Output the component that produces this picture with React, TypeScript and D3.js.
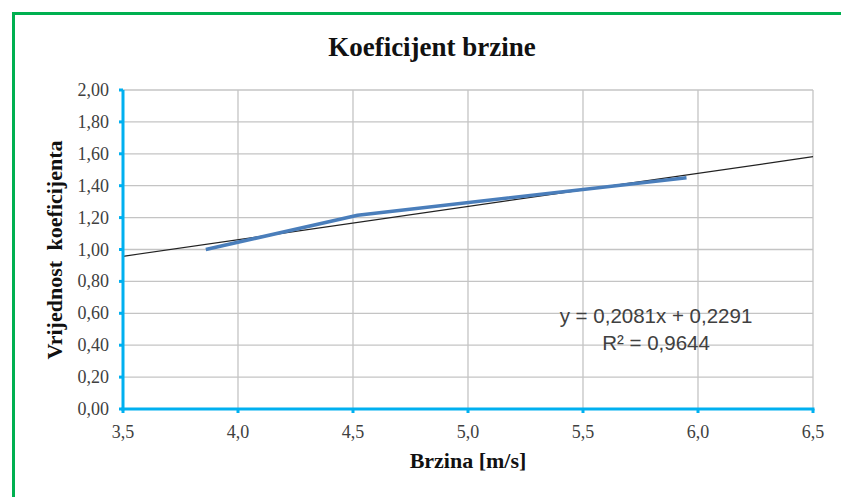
import React from "react";
import * as d3 from "d3";

const title = "Koeficijent brzine";
const xTitle = "Brzina [m/s]";
const yTitle = "Vrijednost koeficijenta";
const xValues = [3.86, 4.52, 5.95];
const yValues = [1.0, 1.215, 1.45];
const xTicks = [3.5, 4.0, 4.5, 5.0, 5.5, 6.0, 6.5];
const yTicks = [0, 0.2, 0.4, 0.6, 0.8, 1.0, 1.2, 1.4, 1.6, 1.8, 2.0];
const trendSlope = 0.2081;
const trendIntercept = 0.2291;
const eqLine1 = "y = 0,2081x + 0,2291";
const eqLine2 = "R² = 0,9644";

const W = 841;
const H = 497;
const plot = { left: 123, right: 813, top: 90, bottom: 409 };

export default function App() {
  const x = d3.scaleLinear().domain([3.5, 6.5]).range([plot.left, plot.right]);
  const y = d3.scaleLinear().domain([0, 2]).range([plot.bottom, plot.top]);
  const pts = xValues.map((v, i) => [v, yValues[i]] as [number, number]);
  const line = d3
    .line<[number, number]>()
    .x((d) => x(d[0]))
    .y((d) => y(d[1]));
  const trendX = x.domain();
  const trendPts = trendX.map((v) => [v, trendSlope * v + trendIntercept] as [number, number]);
  const fmtY = (v: number) => v.toFixed(2).replace(".", ",");
  const fmtX = (v: number) => v.toFixed(1).replace(".", ",");
  const axisBlue = "#00b0f0";
  const grid = "#c4c4c4";
  const serif = "'Liberation Serif', 'DejaVu Serif', serif";
  const sans = "'Liberation Sans', Arial, sans-serif";

  return (
    <svg
      width={W}
      height={H}
      style={{ position: "absolute", left: 0, top: 0, background: "#fff" }}
    >
      <rect x={0} y={0} width={W} height={H} fill="#fff" />
      {/* green frame */}
      <path
        d={`M13.5,${H + 5} L13.5,13.5 L${W + 5},13.5`}
        fill="none"
        stroke="#00b050"
        strokeWidth={3}
      />
      {/* title */}
      <text
        x={432}
        y={56}
        textAnchor="middle"
        fontFamily={serif}
        fontWeight="bold"
        fontSize={27}
        fill="#111"
      >
        {title}
      </text>
      {/* gridlines */}
      {xTicks.map((t) => (
        <line
          key={"gx" + t}
          x1={x(t)}
          x2={x(t)}
          y1={plot.top}
          y2={plot.bottom}
          stroke={grid}
          strokeWidth={1.3}
        />
      ))}
      {yTicks.map((t) => (
        <line
          key={"gy" + t}
          x1={plot.left}
          x2={plot.right}
          y1={y(t)}
          y2={y(t)}
          stroke={grid}
          strokeWidth={1.3}
        />
      ))}
      {/* trendline */}
      <path d={line(trendPts) || ""} fill="none" stroke="#222" strokeWidth={1.2} />
      {/* data line */}
      <path
        d={line(pts) || ""}
        fill="none"
        stroke="#4a7ebb"
        strokeWidth={3.5}
        strokeLinejoin="round"
      />
      {/* axes */}
      <line
        x1={plot.left}
        x2={plot.left}
        y1={plot.top}
        y2={plot.bottom + 1.5}
        stroke={axisBlue}
        strokeWidth={3}
      />
      <line
        x1={plot.left - 1.5}
        x2={plot.right + 1.5}
        y1={plot.bottom}
        y2={plot.bottom}
        stroke={axisBlue}
        strokeWidth={3}
      />
      {yTicks.map((t) => (
        <line
          key={"ty" + t}
          x1={plot.left - 4}
          x2={plot.left}
          y1={y(t)}
          y2={y(t)}
          stroke={axisBlue}
          strokeWidth={3}
        />
      ))}
      {xTicks.map((t) => (
        <line
          key={"tx" + t}
          x1={x(t)}
          x2={x(t)}
          y1={plot.bottom}
          y2={plot.bottom + 4}
          stroke={axisBlue}
          strokeWidth={3}
        />
      ))}
      {/* tick labels */}
      {yTicks.map((t) => (
        <text
          key={"ly" + t}
          x={109}
          y={y(t) + 6}
          textAnchor="end"
          fontFamily={serif}
          fontSize={18}
          fill="#404040"
        >
          {fmtY(t)}
        </text>
      ))}
      {xTicks.map((t) => (
        <text
          key={"lx" + t}
          x={x(t)}
          y={438}
          textAnchor="middle"
          fontFamily={serif}
          fontSize={18}
          fill="#404040"
        >
          {fmtX(t)}
        </text>
      ))}
      {/* axis titles */}
      <text
        x={468}
        y={468}
        textAnchor="middle"
        fontFamily={serif}
        fontWeight="bold"
        fontSize={22}
        fill="#111"
      >
        {xTitle}
      </text>
      <text
        transform={`translate(62,250) rotate(-90)`}
        textAnchor="middle"
        fontFamily={serif}
        fontWeight="bold"
        fontSize={22}
        fill="#111"
        style={{ wordSpacing: "5px" }}
      >
        {yTitle}
      </text>
      {/* equation */}
      <text
        x={656}
        y={323}
        textAnchor="middle"
        fontFamily={sans}
        fontSize={20.5}
        fill="#404040"
      >
        {eqLine1}
      </text>
      <text
        x={656}
        y={350}
        textAnchor="middle"
        fontFamily={sans}
        fontSize={20.5}
        fill="#404040"
      >
        {eqLine2}
      </text>
    </svg>
  );
}
